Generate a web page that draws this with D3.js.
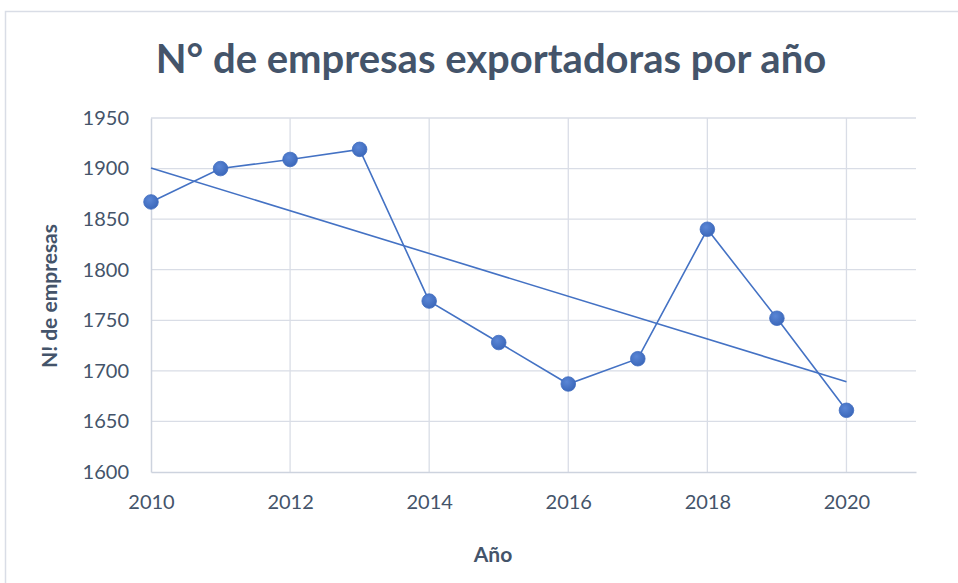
<!DOCTYPE html>
<html><head><meta charset="utf-8">
<script src="https://cdn.jsdelivr.net/npm/d3@7"></script>
<style>
html,body{margin:0;padding:0;background:#fff;}
svg{display:block;font-family:Lato,"Open Sans",sans-serif;}
</style></head>
<body>
<svg id="c" width="958" height="583"></svg>
<script>
const years = [2010,2011,2012,2013,2014,2015,2016,2017,2018,2019,2020];
const empresas = [1867,1900,1909,1919,1769,1728,1687,1712,1840,1752,1661];
const yTicks = [1600,1650,1700,1750,1800,1850,1900,1950];
const xTicks = [2010,2012,2014,2016,2018,2020];
const title = "N° de empresas exportadoras por año";
const yLabel = "N! de empresas";
const xLabel = "Año";

const svg = d3.select("#c");
const textColor = "#44546A", lineColor = "#4472C4", gridColor = "#D9DDE6";

// chart frame
svg.append("rect").attr("x",5.5).attr("y",11.5).attr("width",970).attr("height",600)
  .attr("fill","#fff").attr("stroke","#D9DDE6").attr("stroke-width",1.5);

const x = d3.scaleLinear().domain([2010,2021]).range([151,916]);
const y = d3.scaleLinear().domain([1600,1950]).range([472,118]);

// horizontal grid
svg.append("g").selectAll("line").data(yTicks.slice(1)).join("line")
  .attr("x1",x(2010)).attr("x2",x(2021)).attr("y1",d=>y(d)).attr("y2",d=>y(d))
  .attr("stroke",gridColor).attr("stroke-width",1.3);
// vertical grid
svg.append("g").selectAll("line").data(xTicks.slice(1)).join("line")
  .attr("x1",d=>x(d)).attr("x2",d=>x(d)).attr("y1",y(1950)).attr("y2",y(1600))
  .attr("stroke",gridColor).attr("stroke-width",1.3);

// axes
const yAxis = d3.axisLeft(y).tickValues(yTicks).tickSize(0).tickPadding(22).tickFormat(d3.format("d"));
const gy = svg.append("g").attr("transform",`translate(${x(2010)},0)`).call(yAxis);
gy.select(".domain").attr("stroke","#CDD3DE").attr("stroke-width",1.5);
gy.selectAll("text").attr("fill",textColor).attr("font-size",20).attr("font-family","Lato,'Open Sans',sans-serif");

const xAxis = d3.axisBottom(x).tickValues(xTicks).tickSize(0).tickPadding(23).tickFormat(d3.format("d"));
const gx = svg.append("g").attr("transform",`translate(0,${y(1600)})`).call(xAxis);
gx.select(".domain").attr("stroke","#CDD3DE").attr("stroke-width",1.5);
gx.selectAll("text").attr("fill",textColor).attr("font-size",20).attr("font-family","Lato,'Open Sans',sans-serif");

// linear trendline (least squares on the data)
const n = years.length;
const mx = d3.mean(years), my = d3.mean(empresas);
const sxy = d3.sum(years.map((v,i)=>(v-mx)*(empresas[i]-my)));
const sxx = d3.sum(years.map(v=>(v-mx)*(v-mx)));
const slope = sxy/sxx, icpt = my - slope*mx;
const tr = [years[0], years[n-1]].map(v=>[v, icpt+slope*v]);
svg.append("path").datum(tr)
  .attr("d", d3.line().x(d=>x(d[0])).y(d=>y(d[1])))
  .attr("fill","none").attr("stroke",lineColor).attr("stroke-width",1.6);

// data line
const data = years.map((v,i)=>({yr:v,val:empresas[i]}));
svg.append("path").datum(data)
  .attr("d", d3.line().x(d=>x(d.yr)).y(d=>y(d.val)))
  .attr("fill","none").attr("stroke",lineColor).attr("stroke-width",1.6);

const defs = svg.append("defs");
const grad = defs.append("radialGradient").attr("id","mg").attr("cx","40%").attr("cy","35%").attr("r","70%");
grad.append("stop").attr("offset","0%").attr("stop-color","#5A86D6");
grad.append("stop").attr("offset","100%").attr("stop-color","#3A66B8");

svg.append("g").selectAll("circle").data(data).join("circle")
  .attr("cx",d=>x(d.yr)).attr("cy",d=>y(d.val)).attr("r",7.3)
  .attr("fill","url(#mg)").attr("stroke","#3F6CC0").attr("stroke-width",0.8);

// title
svg.append("text").attr("x",491).attr("y",73).attr("text-anchor","middle")
  .attr("fill",textColor).attr("font-size",40).attr("font-weight","bold").text(title);

// axis titles
svg.append("text").attr("transform","translate(57,296) rotate(-90)").attr("text-anchor","middle")
  .attr("fill",textColor).attr("font-size",21).attr("font-weight","bold").text(yLabel);
svg.append("text").attr("x",493).attr("y",562).attr("text-anchor","middle")
  .attr("fill",textColor).attr("font-size",21).attr("font-weight","bold").text(xLabel);
</script>
</body></html>
